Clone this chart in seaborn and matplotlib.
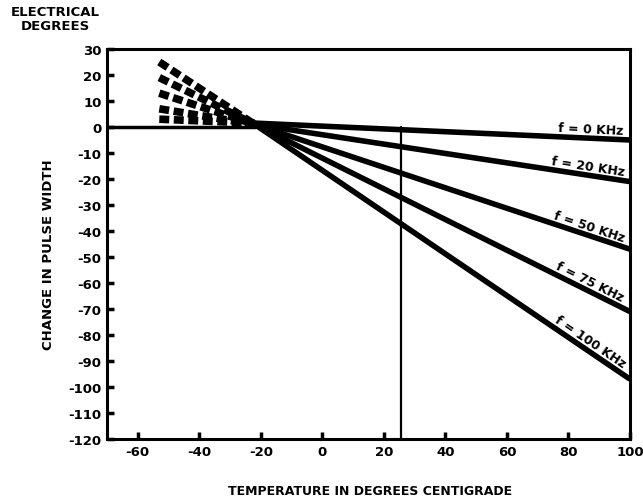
import numpy as np
import pandas as pd
import matplotlib
matplotlib.use("Agg")
import matplotlib.pyplot as plt
import seaborn as sns

# data
freq_labels = ["f = 0 KHz", "f = 20 KHz", "f = 50 KHz", "f = 75 KHz", "f = 100 KHz"]
start_temp = -53
pivot_temp = -22
end_temp = 100
start_change = [3, 7, 13, 19, 25]
pivot_change = [1.5, 1, 1, 1, 1]
end_change = [-5, -21, -47, -71, -97]
label_temp = [87, 86, 86, 86, 86]
marker_temp = 25.5
x_ticks = [-60, -40, -20, 0, 20, 40, 60, 80, 100]
y_ticks = list(range(30, -121, -10))

solid = pd.DataFrame({
    "temp": [pivot_temp] * 5 + [end_temp] * 5,
    "change": pivot_change + end_change,
    "freq": freq_labels * 2,
})
dashed = pd.DataFrame({
    "temp": [start_temp] * 5 + [pivot_temp] * 5,
    "change": start_change + pivot_change,
    "freq": freq_labels * 2,
})

sns.set_style("ticks")
plt.rcParams["font.family"] = ["DejaVu Sans"]
plt.rcParams["font.weight"] = "bold"
plt.rcParams["axes.unicode_minus"] = False
plt.rcParams["text.color"] = "black"
plt.rcParams["xtick.color"] = "black"
plt.rcParams["ytick.color"] = "black"

fig = plt.figure(figsize=(6.43, 5.02), dpi=100)
ax = fig.add_axes([0.1664, 0.1235, 0.8134, 0.7769])

sns.lineplot(data=solid, x="temp", y="change", units="freq", estimator=None,
             color="black", lw=4, ax=ax, solid_capstyle="butt")
sns.lineplot(data=dashed, x="temp", y="change", units="freq", estimator=None,
             color="black", lw=5.5, ax=ax, linestyle=(0, (1.3, 0.6)))

# zero line and the vertical marker
ax.plot([-70, pivot_temp], [0, 0], color="black", lw=2.5)
ax.plot([marker_temp, marker_temp], [0, -120], color="black", lw=1.6)

ax.set_xlim(-70, 100)
ax.set_ylim(-120, 30)

# labels along each line
for lab, y0, y1, xt in zip(freq_labels, pivot_change, end_change, label_temp):
    slope = (y1 - y0) / (end_temp - pivot_temp)
    yt = y0 + slope * (xt - pivot_temp)
    p0 = ax.transData.transform((pivot_temp, y0))
    p1 = ax.transData.transform((end_temp, y1))
    ang = np.degrees(np.arctan2(p1[1] - p0[1], p1[0] - p0[0]))
    ax.annotate(lab, (xt, yt), xytext=(0, 2), textcoords="offset points",
                rotation=ang, rotation_mode="anchor", ha="center", va="bottom",
                fontsize=9, fontweight="bold", color="black")

ax.set_xticks(x_ticks)
ax.set_yticks(y_ticks)
ax.tick_params(direction="in", length=5, width=2.5, labelsize=9.5, pad=4,
               colors="black")
for t in ax.get_xticklabels() + ax.get_yticklabels():
    t.set_fontweight("bold")
for s in ax.spines.values():
    s.set_linewidth(2.2)
    s.set_color("black")

ax.set_xlabel("")
ax.set_ylabel("")
fig.text(370 / 643, 1 - 492 / 502, "TEMPERATURE IN DEGREES CENTIGRADE",
         ha="center", va="center", fontsize=9, fontweight="bold")
fig.text(48 / 643, 1 - 255 / 502, "CHANGE IN PULSE WIDTH", rotation=90,
         ha="center", va="center", fontsize=9.5, fontweight="bold")
fig.text(55 / 643, 1 - 20 / 502, "ELECTRICAL\nDEGREES", ha="center", va="center",
         fontsize=9.5, fontweight="bold", linespacing=1.1)

fig.savefig("out.png", dpi=100)
